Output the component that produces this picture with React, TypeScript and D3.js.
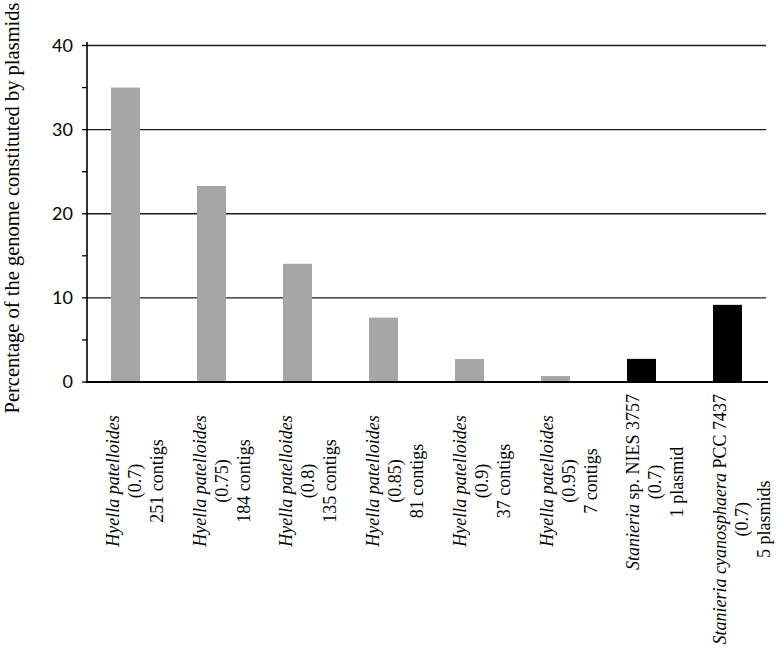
import React, { useEffect, useRef } from 'react';
import * as d3 from 'd3';

type Seg = { t: string; i?: boolean };

const categories = ['Hp07', 'Hp075', 'Hp08', 'Hp085', 'Hp09', 'Hp095', 'SNIES3757', 'SPCC7437'];
const values = [35, 23.3, 14.05, 7.65, 2.73, 0.71, 2.75, 9.17];
const barColors = ['#a6a6a6', '#a6a6a6', '#a6a6a6', '#a6a6a6', '#a6a6a6', '#a6a6a6', '#000000', '#000000'];
const labelLines: Seg[][][] = [
  [[{ t: 'Hyella patelloides', i: true }], [{ t: '(0.7)' }], [{ t: '251 contigs' }]],
  [[{ t: 'Hyella patelloides', i: true }], [{ t: '(0.75)' }], [{ t: '184 contigs' }]],
  [[{ t: 'Hyella patelloides', i: true }], [{ t: '(0.8)' }], [{ t: '135 contigs' }]],
  [[{ t: 'Hyella patelloides', i: true }], [{ t: '(0.85)' }], [{ t: '81 contigs' }]],
  [[{ t: 'Hyella patelloides', i: true }], [{ t: '(0.9)' }], [{ t: '37 contigs' }]],
  [[{ t: 'Hyella patelloides', i: true }], [{ t: '(0.95)' }], [{ t: '7 contigs' }]],
  [[{ t: 'Stanieria', i: true }, { t: ' sp. NIES 3757' }], [{ t: '(0.7)' }], [{ t: '1 plasmid' }]],
  [[{ t: 'Stanieria cyanosphaera', i: true }, { t: ' PCC 7437' }], [{ t: '(0.7)' }], [{ t: '5 plasmids' }]],
];
const yTicks = [0, 10, 20, 30, 40];
const yMinorTicks = [5, 15, 25, 35];
const yTitle = 'Percentage of the genome constituted by plasmids';

const W = 777;
const H = 652;
const SERIF = "'Liberation Serif', Tinos, 'Times New Roman', Times, serif";
const SANS = "Lato, 'Open Sans', 'Liberation Sans', sans-serif";

export default function App() {
  const ref = useRef<SVGSVGElement | null>(null);

  useEffect(() => {
    const svg = d3.select(ref.current);
    svg.selectAll('*').remove();

    const axisX = 87;
    const x = d3.scaleBand<string>().domain(categories).range([82.5, 770.5]).paddingInner(0.663).paddingOuter(0.3315);
    const y = d3.scaleLinear().domain([0, 40]).range([382, 45.5]);
    const labelX = d3.scalePoint<string>().domain(categories).range([119, 726]);

    svg.append('g')
      .selectAll('line')
      .data(yTicks.filter((d) => d > 0))
      .join('line')
      .attr('x1', axisX)
      .attr('x2', 766)
      .attr('y1', (d) => y(d))
      .attr('y2', (d) => y(d))
      .attr('stroke', '#1a1a1a')
      .attr('stroke-width', 1.3);

    svg.append('g')
      .selectAll('rect')
      .data(categories)
      .join('rect')
      .attr('x', (d) => x(d)!)
      .attr('width', x.bandwidth())
      .attr('y', (_, i) => y(values[i]))
      .attr('height', (_, i) => y(0) - y(values[i]))
      .attr('fill', (_, i) => barColors[i]);

    svg.append('g')
      .selectAll('line')
      .data([...yTicks, ...yMinorTicks])
      .join('line')
      .attr('x1', 82)
      .attr('x2', axisX)
      .attr('y1', (d) => y(d))
      .attr('y2', (d) => y(d))
      .attr('stroke', '#000')
      .attr('stroke-width', 1.3);

    svg.append('line')
      .attr('x1', axisX).attr('x2', axisX)
      .attr('y1', 42).attr('y2', y(0))
      .attr('stroke', '#000').attr('stroke-width', 1.6);

    svg.append('line')
      .attr('x1', axisX - 1).attr('x2', 768)
      .attr('y1', y(0)).attr('y2', y(0))
      .attr('stroke', '#000').attr('stroke-width', 2);

    svg.append('g')
      .selectAll('text')
      .data(yTicks)
      .join('text')
      .attr('x', 73)
      .attr('y', (d) => y(d))
      .attr('dy', '0.36em')
      .attr('text-anchor', 'end')
      .style('font-family', SANS)
      .attr('font-size', 18)
      .attr('fill', '#000')
      .text((d) => String(d));

    svg.append('text')
      .attr('transform', `translate(19,208) rotate(-90)`)
      .attr('text-anchor', 'middle')
      .style('font-family', SERIF)
      .attr('font-size', 20.5)
      .attr('fill', '#000')
      .text(yTitle);

    const lineSpacing = 22;
    categories.forEach((c, ci) => {
      const g = svg.append('g')
        .style('font-family', SERIF)
        .attr('font-size', 18)
        .attr('fill', '#000');
      let maxLen = 0;
      labelLines[ci].forEach((line, li) => {
        const t = g.append('text')
          .attr('x', 0)
          .attr('y', li * lineSpacing)
          .attr('text-anchor', 'middle')
          .style('font-family', SERIF);
        line.forEach((s) => {
          t.append('tspan')
            .style('font-style', s.i ? 'italic' : 'normal')
            .text(s.t);
        });
        const node = t.node() as SVGTextElement;
        const len = node.getComputedTextLength();
        if (len > maxLen) maxLen = len;
      });
      const cy = Math.max(481, 394 + maxLen / 2);
      g.attr('transform', `translate(${labelX(c)},${cy}) rotate(-90)`);
    });
  }, []);

  return (
    <svg
      ref={ref}
      width={W}
      height={H}
      style={{ position: 'absolute', left: 0, top: 0, background: '#fff' }}
    />
  );
}
